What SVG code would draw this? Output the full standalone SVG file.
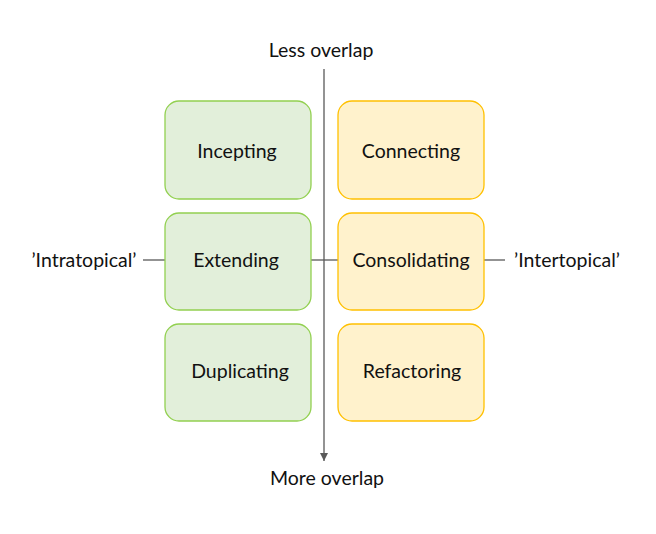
<svg xmlns="http://www.w3.org/2000/svg" width="656" height="534" viewBox="0 0 656 534">
<style>
text{font-family:"Lato","Liberation Sans",sans-serif;font-size:19.5px;fill:#111;text-anchor:middle;dominant-baseline:central}
.g{fill:#e2efda;stroke:#92d050;stroke-width:1.3}
.y{fill:#fff2cc;stroke:#ffc000;stroke-width:1.3}
.c{stroke:#595959;stroke-width:1.3;fill:none}
</style>
<defs>
<marker id="ah" viewBox="0 0 10 10" refX="10" refY="5" markerWidth="8" markerHeight="8" markerUnits="userSpaceOnUse" orient="auto">
<path d="M0,0 L10,5 L0,10 z" fill="#595959"/>
</marker>
</defs>
<rect width="656" height="534" fill="#fff"/>
<g id="connectors">
<line class="c" x1="324" y1="69" x2="324" y2="461" marker-end="url(#ah)"/>
<line class="c" x1="143" y1="260" x2="165" y2="260"/>
<line class="c" x1="311" y1="260" x2="338" y2="260"/>
<line class="c" x1="484" y1="260" x2="505" y2="260"/>
</g>
<g id="less"><text x="321" y="49">Less overlap</text></g>
<g id="more"><text x="327" y="477">More overlap</text></g>
<g id="intra"><text x="84" y="259">’Intratopical’</text></g>
<g id="inter"><text x="567" y="259">’Intertopical’</text></g>
<g id="incepting"><rect class="g" x="165" y="101" width="146" height="98" rx="14"/><text x="237" y="150">Incepting</text></g>
<g id="extending"><rect class="g" x="165" y="213" width="146" height="97" rx="14"/><text x="236" y="259">Extending</text></g>
<g id="duplicating"><rect class="g" x="165" y="324" width="146" height="97" rx="14"/><text x="240" y="370">Duplicating</text></g>
<g id="connecting"><rect class="y" x="338" y="101" width="146" height="98" rx="14"/><text x="411" y="150">Connecting</text></g>
<g id="consolidating"><rect class="y" x="338" y="213" width="146" height="97" rx="14"/><text x="411" y="259">Consolidating</text></g>
<g id="refactoring"><rect class="y" x="338" y="324" width="146" height="97" rx="14"/><text x="412" y="370">Refactoring</text></g>
</svg>
